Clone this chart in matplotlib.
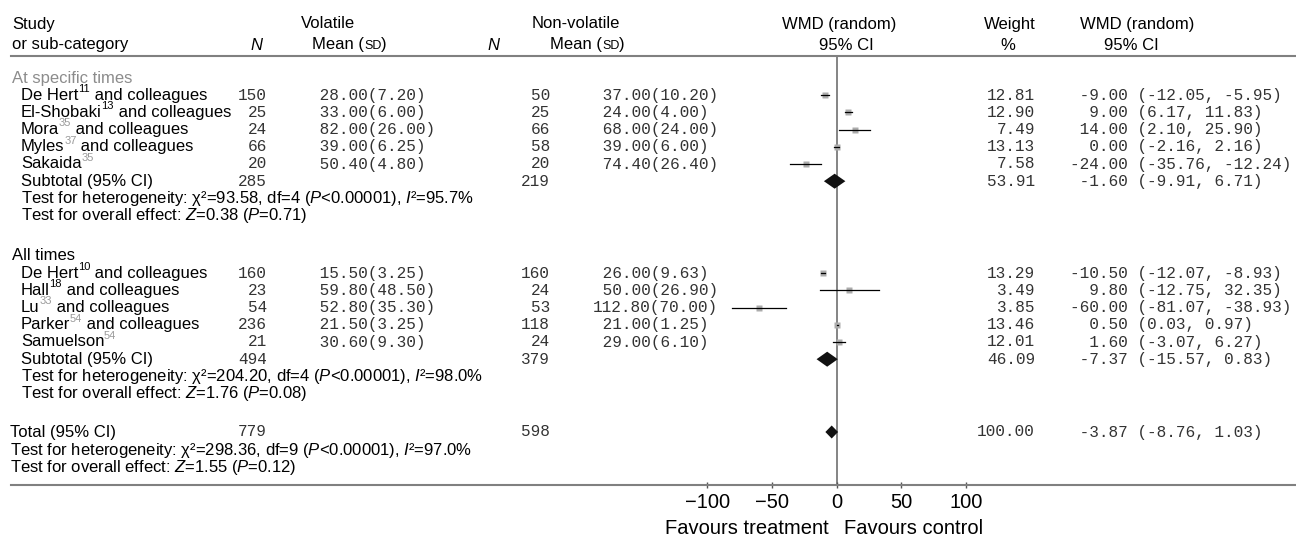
import matplotlib

matplotlib.use("Agg")
import matplotlib.pyplot as plt
from matplotlib.transforms import blended_transform_factory

plt.rcParams["font.family"] = ["Liberation Sans", "DejaVu Sans"]
plt.rcParams["mathtext.fontset"] = "custom"
plt.rcParams["mathtext.rm"] = "Liberation Sans"
plt.rcParams["mathtext.it"] = "Liberation Sans:italic"
plt.rcParams["mathtext.bf"] = "Liberation Sans:bold"

# ---- data ----
group_titles = ["At specific times", "All times"]
study_names = [
    ["De Hert", "El-Shobaki", "Mora", "Myles", "Sakaida"],
    ["De Hert", "Hall", "Lu", "Parker", "Samuelson"],
]
study_refs = [["11", "13", "35", "37", "35"], ["10", "18", "33", "54", "54"]]
study_suffix = [
    [" and colleagues"] * 4 + [""],
    [" and colleagues"] * 4 + [""],
]
ref_faded = [[False, False, True, True, True], [False, False, True, True, True]]

vol_n = [[150, 25, 24, 66, 20], [160, 23, 54, 236, 21]]
vol_mean = [[28.00, 33.00, 82.00, 39.00, 50.40], [15.50, 59.80, 52.80, 21.50, 30.60]]
vol_sd = [[7.20, 6.00, 26.00, 6.25, 4.80], [3.25, 48.50, 35.30, 3.25, 9.30]]
nv_n = [[50, 25, 66, 58, 20], [160, 24, 53, 118, 24]]
nv_mean = [[37.00, 24.00, 68.00, 39.00, 74.40], [26.00, 50.00, 112.80, 21.00, 29.00]]
nv_sd = [[10.20, 4.00, 24.00, 6.00, 26.40], [9.63, 26.90, 70.00, 1.25, 6.10]]
weight = [[12.81, 12.90, 7.49, 13.13, 7.58], [13.29, 3.49, 3.85, 13.46, 12.01]]
wmd = [[-9.00, 9.00, 14.00, 0.00, -24.00], [-10.50, 9.80, -60.00, 0.50, 1.60]]
wmd_lo = [[-12.05, 6.17, 2.10, -2.16, -35.76], [-12.07, -12.75, -81.07, 0.03, -3.07]]
wmd_hi = [[-5.95, 11.83, 25.90, 2.16, -12.24], [-8.93, 32.35, -38.93, 0.97, 6.27]]

sub_vol_n = [285, 494]
sub_nv_n = [219, 379]
sub_weight = [53.91, 46.09]
sub_wmd = [-1.60, -7.37]
sub_lo = [-9.91, -15.57]
sub_hi = [6.71, 0.83]
sub_chi2 = ["93.58", "204.20"]
sub_df = ["4", "4"]
sub_i2 = ["95.7", "98.0"]
sub_z = ["0.38", "1.76"]
sub_p = ["0.71", "0.08"]

tot_vol_n, tot_nv_n, tot_weight = 779, 598, 100.00
tot_wmd, tot_lo, tot_hi = -3.87, -8.76, 1.03
tot_chi2, tot_df, tot_i2, tot_z, tot_p = "298.36", "9", "97.0", "1.55", "0.12"

ticks = [-100, -50, 0, 50, 100]

# ---- layout (pixels) ----
W, H = 1296, 538
X0_PX = 836.7      # pixel column of WMD = 0
PX_PER_UNIT = 1.293
ROW = 17.2
block_top = [78, 256]
tot_y = [432, 450, 467.5]
top_line, bottom_line = 56, 485

SANS = 12
MONO = dict(family="Liberation Mono", fontsize=11.6, color="#333333")
GREY_LINE = "#808080"


def xdata(px):
    return (px - X0_PX) / PX_PER_UNIT


fig = plt.figure(figsize=(W / 100, H / 100), dpi=100)
ax = fig.add_axes([0, 0, 1, 1])
ax.set_xlim(xdata(0), xdata(W))
ax.set_ylim(H, 0)
tr = blended_transform_factory(fig.transFigure, ax.transData)


def txt(px, y, s, **kw):
    kw.setdefault("fontsize", SANS)
    kw.setdefault("va", "center")
    return ax.text(px / W, y, s, transform=tr, **kw)


def mean_sd_header(px, y):
    # "Mean (SD)" with SD in small capitals
    base = txt(px, y, "Mean (")
    sd = ax.annotate("SD", xy=(1, 0), xycoords=base, xytext=(0, 0.6),
                     textcoords="offset points", va="bottom", fontsize=9)
    ax.annotate(")", xy=(1, 0), xycoords=(sd, base), va="bottom", fontsize=SANS)


def het_text(chi2, df, i2):
    return ("Test for heterogeneity: χ²=" + chi2 + ", df=" + df
            + r" ($P$<0.00001), $I$²=" + i2 + "%")


def effect_text(z, p):
    return r"Test for overall effect: $Z$=" + z + r" ($P$=" + p + ")"


# headers
txt(12, 24, "Study")
txt(12, 45, "or sub-category")
txt(250, 45, "N", style="italic")
txt(301, 24, "Volatile")
mean_sd_header(312, 45)
txt(487, 45, "N", style="italic")
txt(532, 24, "Non-volatile")
mean_sd_header(550, 45)
txt(839, 24, "WMD (random)", ha="center")
txt(846, 45, "95% CI", ha="center")
txt(1010, 24, "Weight", ha="center")
txt(1008, 45, "%", ha="center")
txt(1137, 24, "WMD (random)", ha="center")
txt(1131, 45, "95% CI", ha="center")

ax.axhline(top_line, xmin=11 / W, xmax=1, color=GREY_LINE, lw=1.5)
ax.vlines(0, top_line, bottom_line, color="#707070", lw=1.2, zorder=1)


def diamond(est, lo, hi, y, h):
    ax.fill([lo, est, hi, est], [y, y - h, y, y + h], color="#111111", lw=0, zorder=4)


for g in range(2):
    top = block_top[g]
    txt(12, top, group_titles[g], color="#8c8c8c" if g == 0 else "black")
    for i in range(5):
        y = top + ROW * (i + 1)
        sup_col = "#9a9a9a" if ref_faded[g][i] else "black"
        base = txt(21, y, study_names[g][i])
        sup = ax.annotate(study_refs[g][i], xy=(1, 0), xycoords=base, xytext=(-0.3, 6.3),
                          textcoords="offset points", va="bottom", ha="left",
                          fontsize=8, color=sup_col)
        if study_suffix[g][i]:
            ax.annotate(study_suffix[g][i], xy=(1, 0), xycoords=(sup, base),
                        va="bottom", ha="left", fontsize=SANS)
        txt(267, y, str(vol_n[g][i]), ha="right", **MONO)
        txt(310, y, f"{vol_mean[g][i]:6.2f}({vol_sd[g][i]:.2f})", ha="left", **MONO)
        txt(550, y, str(nv_n[g][i]), ha="right", **MONO)
        txt(593, y, f"{nv_mean[g][i]:6.2f}({nv_sd[g][i]:.2f})", ha="left", **MONO)
        txt(1035, y, f"{weight[g][i]:.2f}", ha="right", **MONO)
        txt(1070, y, f"{wmd[g][i]:6.2f} ({wmd_lo[g][i]:.2f}, {wmd_hi[g][i]:.2f})", ha="left", **MONO)
        ax.plot(wmd[g][i], y, marker="s", ms=4.6 + 0.03 * weight[g][i],
                color="#acacac", mec="none", zorder=3)
        ax.plot([wmd_lo[g][i], wmd_hi[g][i]], [y, y], color="black", lw=0.9, zorder=4)

    y = top + ROW * 6
    txt(21, y, "Subtotal (95% CI)")
    txt(267, y, str(sub_vol_n[g]), ha="right", **MONO)
    txt(550, y, str(sub_nv_n[g]), ha="right", **MONO)
    txt(1035, y, f"{sub_weight[g]:.2f}", ha="right", **MONO)
    txt(1070, y, f"{sub_wmd[g]:6.2f} ({sub_lo[g]:.2f}, {sub_hi[g]:.2f})", ha="left", **MONO)
    diamond(sub_wmd[g], sub_lo[g], sub_hi[g], y, 7.5)
    txt(21, top + ROW * 7, het_text(sub_chi2[g], sub_df[g], sub_i2[g]))
    txt(21, top + ROW * 8, effect_text(sub_z[g], sub_p[g]))

# overall total
txt(10, tot_y[0], "Total (95% CI)")
txt(267, tot_y[0], str(tot_vol_n), ha="right", **MONO)
txt(550, tot_y[0], str(tot_nv_n), ha="right", **MONO)
txt(1035, tot_y[0], f"{tot_weight:.2f}", ha="right", **MONO)
txt(1070, tot_y[0], f"{tot_wmd:6.2f} ({tot_lo:.2f}, {tot_hi:.2f})", ha="left", **MONO)
diamond(tot_wmd, tot_lo, tot_hi, tot_y[0], 6.5)
txt(10, tot_y[1], het_text(tot_chi2, tot_df, tot_i2))
txt(10, tot_y[2], effect_text(tot_z, tot_p))

# axis
for side in ["top", "left", "right"]:
    ax.spines[side].set_visible(False)
ax.spines["bottom"].set_position(("data", bottom_line))
ax.spines["bottom"].set_bounds(xdata(11), xdata(W))
ax.spines["bottom"].set_color(GREY_LINE)
ax.spines["bottom"].set_linewidth(1.5)
ax.set_yticks([])
ax.set_xticks(ticks)
ax.tick_params(axis="x", direction="inout", length=5, width=1, color="#555555",
               labelsize=14.5, pad=3)
ax.text(-6, 528, "Favours treatment", ha="right", va="center", fontsize=14.5)
ax.text(6, 528, "Favours control", ha="left", va="center", fontsize=14.5)

fig.savefig("out.png", dpi=100)
